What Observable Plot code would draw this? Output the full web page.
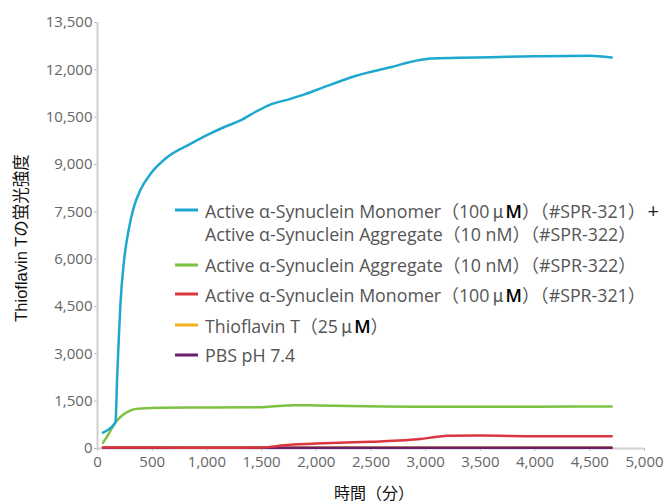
<!DOCTYPE html>
<html>
<head>
<meta charset="utf-8">
<script src="https://cdn.jsdelivr.net/npm/d3@7"></script>
<script src="https://cdn.jsdelivr.net/npm/@observablehq/plot@0.6"></script>
<style>
  html, body { margin: 0; padding: 0; background: #fff; }
  #wrap { position: relative; width: 671px; height: 504px; font-family: "Open Sans", "Noto Sans CJK JP", sans-serif; overflow: hidden; }
  .row { position: absolute; left: 205px; color: #555; font-family: "Open Sans", "Noto Sans CJK JP", sans-serif; font-size: 17.8px; line-height: 20px; white-space: pre; transform: translateY(-50%); }
  .sw { position: absolute; left: 175px; width: 23px; height: 3px; transform: translateY(-50%); }
  .m { color: #000; font-weight: 600; }
  .mu { font-family: "Noto Sans CJK JP", sans-serif; margin: 0 2px 0 3px; }
  .plus { color: #222; font-size: 20px; margin-left: 2px; }
  .ylab { position: absolute; left: 20px; top: 238px; transform: translate(-50%, -50%) rotate(-90deg); font-family: "Liberation Sans", "Noto Sans CJK JP", sans-serif; font-size: 16.5px; color: #111; white-space: nowrap; }
  .xlab { position: absolute; left: 374px; top: 492px; transform: translate(-50%, -50%); font-family: "Noto Sans CJK JP", sans-serif; font-size: 16px; line-height: 18px; color: #111; white-space: nowrap; }
</style>
</head>
<body>
<div id="wrap"></div>
<script>
const seriesNames = [
  "Active α-Synuclein Monomer (100 μM) (#SPR-321) + Active α-Synuclein Aggregate (10 nM) (#SPR-322)",
  "Active α-Synuclein Aggregate (10 nM) (#SPR-322)",
  "Active α-Synuclein Monomer (100 μM) (#SPR-321)",
  "Thioflavin T (25 μM)",
  "PBS pH 7.4"
];
const seriesColors = ["#1fa8cf", "#7dc243", "#d93640", "#f2b21b", "#6b1f6d"];

const blueT = [50,100,150,165,180,195,210,241,286,332,393,484,637,850,1000,1155,1307,1450,1581,1764,1900,2069,2373,2678,2900,3050,3300,3600,4000,4500,4700];
const blueV = [500,600,760,850,2300,3500,4600,5900,6950,7650,8200,8700,9230,9655,9930,10180,10400,10680,10900,11080,11230,11450,11820,12080,12280,12360,12380,12400,12430,12450,12390];

const greenT = [50,100,165,220,271,330,400,600,1000,1500,1650,1800,2000,2300,2600,3000,3500,4000,4700];
const greenV = [180,450,830,1030,1150,1240,1270,1290,1300,1310,1350,1370,1365,1345,1330,1320,1320,1325,1330];

const redT = [50,500,1000,1500,1600,1700,2000,2500,2800,2950,3100,3200,3500,4000,4700];
const redV = [30,30,25,30,60,105,155,215,260,300,370,405,410,390,385];

const yellowT = [50,1000,2000,3000,4000,4700];
const yellowV = [35,35,35,35,35,35];

const purpleT = [50,1000,2000,3000,4000,4700];
const purpleV = [20,20,20,20,20,20];

const yTicks = [0,1500,3000,4500,6000,7500,9000,10500,12000,13500];
const xTicks = [0,500,1000,1500,2000,2500,3000,3500,4000,4500,5000];

const seriesT = [blueT, greenT, redT, yellowT, purpleT];
const seriesV = [blueV, greenV, redV, yellowV, purpleV];
const drawOrder = [3,4,2,1,0];
const data = [];
drawOrder.forEach(i => {
  seriesT[i].forEach((t, j) => data.push({t, v: seriesV[i][j], s: seriesNames[i], order: i}));
});

const chart = Plot.plot({
  width: 671,
  height: 504,
  marginLeft: 97,
  marginRight: 27,
  marginTop: 22,
  marginBottom: 56,
  style: { fontFamily: "'Open Sans', sans-serif", background: "#fff" },
  x: { domain: [0, 5000] },
  y: { domain: [0, 13500] },
  marks: [
    Plot.axisY({ ticks: yTicks, tickFormat: d3.format(","), tickSize: 3, tickPadding: 2, stroke: "#bbb", fill: "#666", fontSize: 15, label: null }),
    Plot.axisX({ ticks: xTicks, tickFormat: d3.format(","), tickSize: 3, tickPadding: 5, stroke: "#bbb", fill: "#666", fontSize: 15, label: null }),
    Plot.ruleX([0], { stroke: "#d0d0d0", strokeWidth: 2 }),
    Plot.ruleY([0], { stroke: "#d0d0d0", strokeWidth: 2 }),
    ...drawOrder.map(i => Plot.line(data.filter(d => d.order === i), { x: "t", y: "v", stroke: seriesColors[i], strokeWidth: 2.5, curve: "monotone-x" }))
  ]
});

const wrap = document.getElementById("wrap");
wrap.appendChild(chart);

const MU = '<span class="mu">μ</span><span class="m">M</span>';
const legendRows = [
  { c: 0, y: 210, html: `Active α-Synuclein Monomer（100${MU}）（#SPR-321）<span class="plus">+</span>` },
  { c: -1, y: 234, html: 'Active α-Synuclein Aggregate（10 nM）（#SPR-322）' },
  { c: 1, y: 265, html: 'Active α-Synuclein Aggregate（10 nM）（#SPR-322）' },
  { c: 2, y: 294, html: `Active α-Synuclein Monomer（100${MU}）（#SPR-321）` },
  { c: 3, y: 325, html: `Thioflavin T（25${MU}）` },
  { c: 4, y: 355, html: 'PBS pH 7.4' }
];
legendRows.forEach(r => {
  if (r.c >= 0) {
    const sw = document.createElement("div");
    sw.className = "sw";
    sw.style.top = r.y + "px";
    sw.style.background = seriesColors[r.c];
    wrap.appendChild(sw);
  }
  const row = document.createElement("div");
  row.className = "row";
  row.style.top = r.y + "px";
  row.innerHTML = r.html;
  wrap.appendChild(row);
});

const yl = document.createElement("div");
yl.className = "ylab";
yl.textContent = "Thioflavin Tの蛍光強度";
wrap.appendChild(yl);
const xl = document.createElement("div");
xl.className = "xlab";
xl.textContent = "時間（分）";
wrap.appendChild(xl);
</script>
</body>
</html>
